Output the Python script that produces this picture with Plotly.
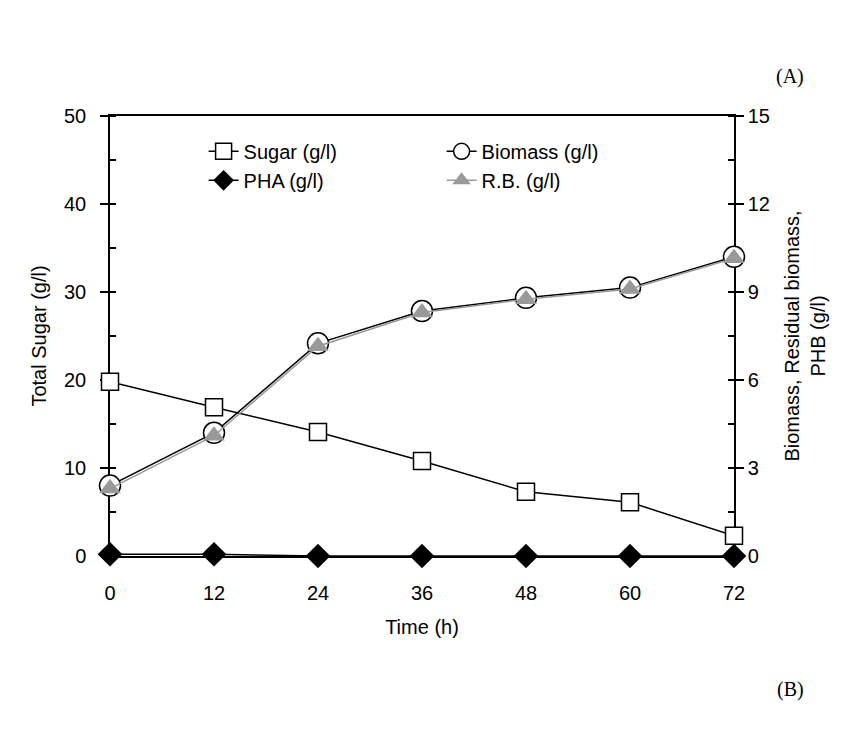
import plotly.graph_objects as go

time_h = [0, 12, 24, 36, 48, 60, 72]
sugar = [19.8, 16.9, 14.1, 10.8, 7.3, 6.1, 2.3]
biomass = [2.4, 4.2, 7.25, 8.35, 8.8, 9.15, 10.2]
pha = [0.06, 0.06, 0.0, 0.0, 0.0, 0.0, 0.0]
rb = [2.3, 4.1, 7.15, 8.3, 8.75, 9.1, 10.15]

FONT = "Liberation Sans, Arial, sans-serif"
SERIF = "Liberation Serif, Times New Roman, serif"
GRAY = "#999999"
FS = 20

fig = go.Figure()
fig.add_trace(go.Scatter(x=time_h, y=sugar, name="Sugar (g/l)", mode="lines+markers",
                         line=dict(color="black", width=1.5),
                         marker=dict(symbol="square", size=17, color="white",
                                     line=dict(color="black", width=1.5)),
                         cliponaxis=False, yaxis="y"))
fig.add_trace(go.Scatter(x=time_h, y=biomass, name="Biomass (g/l)", mode="lines+markers",
                         line=dict(color="black", width=1.5),
                         marker=dict(symbol="circle", size=21, color="white",
                                     line=dict(color="black", width=1.5)),
                         cliponaxis=False, yaxis="y2"))
fig.add_trace(go.Scatter(x=time_h, y=pha, name="PHA (g/l)", mode="lines+markers",
                         line=dict(color="black", width=1.5),
                         marker=dict(symbol="diamond", size=19, color="black",
                                     line=dict(color="black", width=0)),
                         cliponaxis=False, yaxis="y2"))
fig.add_trace(go.Scatter(x=time_h, y=rb, name="R.B. (g/l)", mode="lines+markers",
                         line=dict(color=GRAY, width=1.5),
                         marker=dict(symbol="triangle-up", size=19, color=GRAY,
                                     line=dict(color=GRAY, width=0)),
                         cliponaxis=False, yaxis="y2"))

axis_common = dict(showline=True, linecolor="black", linewidth=1.5, showgrid=False,
                   zeroline=False, layer="below traces",
                   tickfont=dict(family=FONT, size=FS, color="black"))

fig.update_layout(
    width=855, height=732,
    margin=dict(l=102, r=129, t=108, b=184),
    paper_bgcolor="white", plot_bgcolor="white",
    font=dict(family=FONT, size=FS, color="black"),
    showlegend=True,
    legend=dict(orientation="h", x=0.15, y=0.964, xanchor="left", yanchor="top",
                entrywidth=193, bgcolor="rgba(0,0,0,0)",
                font=dict(family=FONT, size=FS, color="black")),
    xaxis=dict(range=[0, 72], tickvals=time_h, ticks="outside", ticklen=18,
               tickcolor="rgba(0,0,0,0)", mirror=True,
               title=dict(text="Time (h)", font=dict(family=FONT, size=FS), standoff=17),
               **axis_common),
    yaxis=dict(range=[0, 50], dtick=10, ticks="outside", ticklen=8, tickwidth=1.5,
               tickcolor="black", ticklabelstandoff=10,
               minor=dict(dtick=5, ticks="inside", ticklen=6, tickcolor="black", tickwidth=1.5),
               title=dict(text="Total Sugar (g/l)", font=dict(family=FONT, size=FS), standoff=12),
               **axis_common),
    yaxis2=dict(range=[0, 15], dtick=3, ticks="outside", ticklen=8, tickwidth=1.5,
                tickcolor="black", overlaying="y", side="right", anchor="x",
                minor=dict(dtick=1.5, ticks="inside", ticklen=6, tickcolor="black", tickwidth=1.5),
                title=dict(text="Biomass, Residual biomass,<br>PHB (g/l)",
                           font=dict(family=FONT, size=FS), standoff=16),
                **axis_common),
    yaxis3=dict(range=[0, 50], dtick=10, ticks="inside", ticklen=6, tickwidth=1.5,
                tickcolor="black", overlaying="y", side="left", anchor="x",
                showticklabels=False, showline=False, showgrid=False, zeroline=False,
                layer="below traces"),
    yaxis4=dict(range=[0, 15], dtick=3, ticks="inside", ticklen=6, tickwidth=1.5,
                tickcolor="black", overlaying="y", side="right", anchor="x",
                showticklabels=False, showline=False, showgrid=False, zeroline=False,
                layer="below traces"),
    annotations=[
        dict(text="(A)", xref="paper", yref="paper", x=1.116, y=1.12, showarrow=False,
             font=dict(family=SERIF, size=20, color="black")),
        dict(text="(B)", xref="paper", yref="paper", x=1.116, y=-0.335, showarrow=False,
             font=dict(family=SERIF, size=20, color="black")),
    ],
)

fig.write_html("out.html")
